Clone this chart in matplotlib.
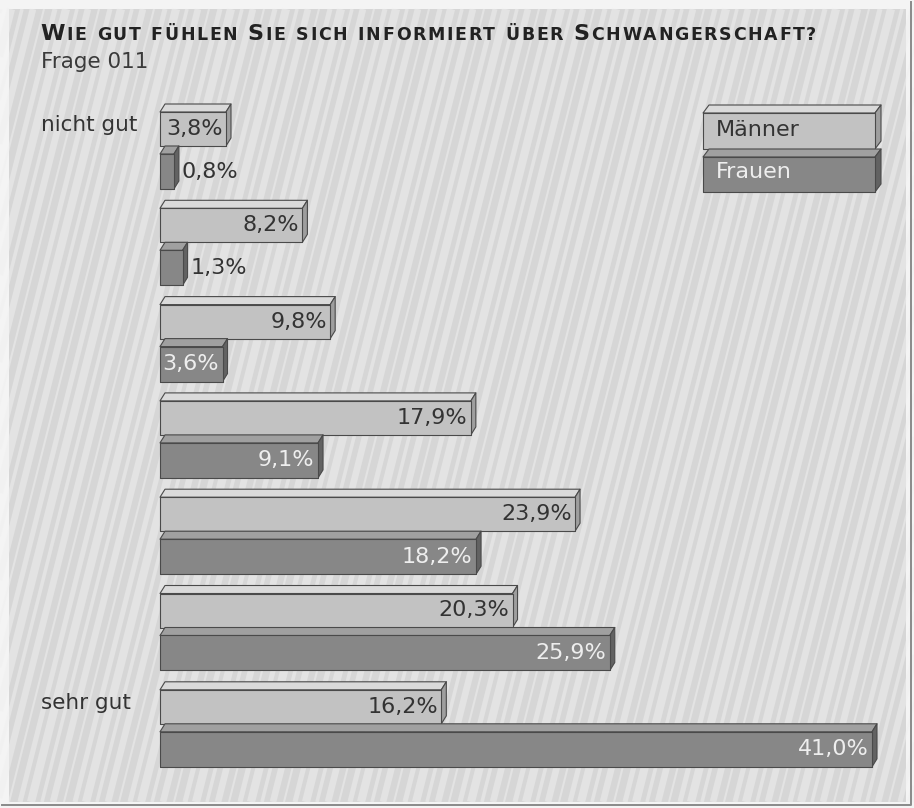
import matplotlib.pyplot as plt
from matplotlib.patches import Polygon, Rectangle
from matplotlib.offsetbox import HPacker, TextArea, AnchoredOffsetbox
from matplotlib.transforms import blended_transform_factory

plt.rcParams['font.family'] = ['DejaVu Sans']

title = 'Wie gut fühlen Sie sich informiert über Schwangerschaft?'
subtitle = 'Frage 011'
categories = ['nicht gut', '', '', '', '', '', 'sehr gut']
maenner = [3.8, 8.2, 9.8, 17.9, 23.9, 20.3, 16.2]
frauen = [0.8, 1.3, 3.6, 9.1, 18.2, 25.9, 41.0]
series_names = ['Männer', 'Frauen']

# bar styles: front, top, side
m_cols = ('#c2c2c2', '#dadada', '#9e9e9e')
f_cols = ('#878787', '#a0a0a0', '#626262')
bg = '#d6d6d6'


def fmt(v):
    return f'{v:.1f}'.replace('.', ',') + '%'


def bar3d(ax, x0, top, w, h, dx, dy, cols):
    front, topc, side = cols
    kw = dict(edgecolor='#4a4a4a', linewidth=0.8, clip_on=False, joinstyle='round')
    ax.add_patch(Polygon([(x0, top + dy), (x0 + dx, top), (x0 + w + dx, top), (x0 + w, top + dy)],
                         facecolor=topc, **kw))
    ax.add_patch(Polygon([(x0 + w, top + dy), (x0 + w + dx, top), (x0 + w + dx, top + h),
                          (x0 + w, top + dy + h)], facecolor=side, **kw))
    ax.add_patch(Rectangle((x0, top + dy), w, h, facecolor=front, **kw))


fig = plt.figure(figsize=(9.14, 8.08), dpi=100, facecolor='#f4f4f4')

# background panel with light streaks
bgax = fig.add_axes([0, 0, 1, 1], zorder=-5)
bgax.set_xlim(0, 914)
bgax.set_ylim(808, 0)
bgax.axis('off')
panel = Rectangle((9, 9), 897, 793, facecolor=bg, edgecolor='none')
bgax.add_patch(panel)
for k in range(-40, 100):
    x = 9 + k * 11
    bgax.plot([x, x + 200], [802, 9], color='#f0f0f0', lw=1.5 + (k * 7 % 5) * 1.1,
              alpha=0.5, solid_capstyle='butt', clip_path=panel)
bgax.plot([2, 911, 911], [805, 805, 2], color='#8a8a8a', lw=1.4)

# main bars
px_per_pct = 712 / 41.0
grp = 96.3
dx = 5 / px_per_pct
dy = 8 / grp
h_m = 34 / grp
h_f = 35 / grp

ax = fig.add_axes([160 / 914, 1 - 775 / 808, 712 / 914, 675 / 808])
ax.set_xlim(0, 41)
ax.set_ylim((775 - 104) / grp, (100 - 104) / grp)
ax.axis('off')

lab_kw = dict(fontsize=16, va='center')
for i, (m, f) in enumerate(zip(maenner, frauen)):
    bar3d(ax, 0, i, m, h_m, dx, dy, m_cols)
    ftop = i + dy + h_m
    bar3d(ax, 0, ftop, f, h_f, dx, dy, f_cols)
    ax.text(m - 0.2, i + dy + h_m / 2, fmt(m), ha='right', color='#333333', **lab_kw)
    fy = ftop + dy + h_f / 2
    if f < 2:
        ax.text(f + dx + 0.15, fy, fmt(f), ha='left', color='#333333', **lab_kw)
    else:
        ax.text(f - 0.2, fy, fmt(f), ha='right', color='#eeeeee', **lab_kw)

tr = blended_transform_factory(fig.transFigure, ax.transData)
for i, c in enumerate(categories):
    if c:
        ax.text(41 / 914, i + dy + h_m / 2 - 0.04, c, transform=tr, ha='left', va='center',
                fontsize=15.5, color='#333333')

# legend
lax = fig.add_axes([703 / 914, 1 - 190 / 808, 179 / 914, 87 / 808])
lax.set_xlim(0, 179)
lax.set_ylim(87, 0)
lax.axis('off')
bar3d(lax, 0, 2, 172, 36, 6, 8, m_cols)
bar3d(lax, 0, 46, 172, 35, 6, 8, f_cols)
lax.text(13, 27, series_names[0], fontsize=16, color='#333333', va='center')
lax.text(13, 69, series_names[1], fontsize=16, color='#eeeeee', va='center')

# title in spaced small caps
big = dict(fontsize=16, fontweight='bold', color='#222222')
small = dict(fontsize=12.5, fontweight='bold', color='#222222')
words = []
for w in title.split(' '):
    chars = [TextArea(ch if ch.isupper() else ch.upper(), textprops=big if ch.isupper() else small)
             for ch in w]
    words.append(HPacker(children=chars, align='baseline', pad=0, sep=1.2))
pack = HPacker(children=words, align='baseline', pad=0, sep=7.5)
fig.add_artist(AnchoredOffsetbox(loc='lower left', child=pack, frameon=False, pad=0, borderpad=0,
                                 bbox_to_anchor=(40 / 914, 1 - 44 / 808),
                                 bbox_transform=fig.transFigure))
fig.text(41 / 914, 1 - 62 / 808, subtitle, fontsize=15.5, color='#3a3a3a', va='center')

fig.savefig('out.png', dpi=100, facecolor=fig.get_facecolor())
